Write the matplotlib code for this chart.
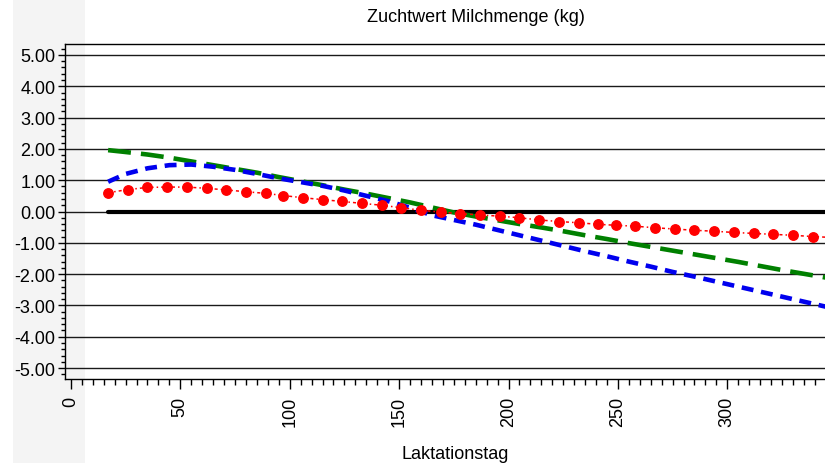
import numpy as np
import matplotlib
matplotlib.use("Agg")
import matplotlib.pyplot as plt
from matplotlib.ticker import MultipleLocator, FormatStrFormatter
from matplotlib.patches import Rectangle

# =====================================================
# DATA
# =====================================================
DAYS_CURVE = [17, 25, 35, 45, 55, 65, 75, 85, 95, 105, 115, 125, 135, 145, 155,
              165, 175, 185, 195, 205, 215, 225, 235, 245, 255, 265, 275, 285,
              295, 305, 315, 325, 335, 345, 355]

GREEN = [1.96, 1.90, 1.82, 1.72, 1.60, 1.48, 1.36, 1.24, 1.10, 0.97, 0.84, 0.70,
         0.57, 0.43, 0.29, 0.13, -0.03, -0.16, -0.28, -0.40, -0.51, -0.63, -0.76,
         -0.88, -1.01, -1.13, -1.25, -1.37, -1.49, -1.61, -1.74, -1.87, -1.99,
         -2.11, -2.23]

BLUE = [0.95, 1.20, 1.38, 1.48, 1.50, 1.43, 1.33, 1.20, 1.06, 0.94, 0.82, 0.67,
        0.50, 0.33, 0.12, -0.12, -0.27, -0.42, -0.59, -0.76, -0.93, -1.10, -1.27,
        -1.43, -1.60, -1.76, -1.93, -2.08, -2.24, -2.40, -2.56, -2.72, -2.88,
        -3.04, -3.20]

DAYS_RED = [17, 26, 35, 44, 53, 62, 71, 80, 89, 97, 106, 115, 124, 133, 142, 151,
            160, 169, 178, 187, 196, 205, 214, 223, 232, 241, 249, 258, 267, 276,
            285, 294, 303, 312, 321, 330, 339, 348]

RED = [0.60, 0.70, 0.77, 0.78, 0.78, 0.74, 0.69, 0.63, 0.58, 0.51, 0.44, 0.38,
       0.32, 0.26, 0.20, 0.12, 0.04, -0.02, -0.07, -0.11, -0.15, -0.20, -0.27,
       -0.32, -0.36, -0.41, -0.44, -0.47, -0.52, -0.56, -0.60, -0.63, -0.67,
       -0.70, -0.73, -0.76, -0.80, -0.83]

DAYS_ZERO = [17, 355]
ZERO = [0.0, 0.0]

# =====================================================
# FIGURE
# =====================================================
plt.rcParams["font.family"] = ["Liberation Sans", "DejaVu Sans"]
plt.rcParams["axes.unicode_minus"] = False

W, H = 825, 464
fig = plt.figure(figsize=(W / 100, H / 100), dpi=100)
fig.patch.set_facecolor("white")

# light grey strip at the left (screenshot background)
fig.patches.append(Rectangle((13 / W, 0), (85 - 13) / W, 1, transform=fig.transFigure,
                             facecolor="#f4f4f4", edgecolor="none", zorder=-5))

ax_left, ax_right = 65, 900
ax_top, ax_bottom = 45, 380
ax = fig.add_axes([ax_left / W, 1 - ax_bottom / H,
                   (ax_right - ax_left) / W, (ax_bottom - ax_top) / H])
ax.set_facecolor("none")

ax.plot(DAYS_ZERO, ZERO, color="black", lw=3.0, solid_capstyle="round", zorder=3)
ax.plot(DAYS_CURVE, GREEN, color="#008000", lw=3.3, dashes=(5, 2.2),
        dash_capstyle="butt", zorder=4)
ax.plot(DAYS_CURVE, BLUE, color="#0000ee", lw=3.3, dashes=(2.6, 1.7),
        dash_capstyle="butt", zorder=5)
ax.plot(DAYS_RED, RED, color="#ff0000", lw=1.1, ls=(0, (2, 2, 1, 2)),
        marker="o", ms=6.8, zorder=6)

ax.set_xlim(-2.7, -2.7 + (ax_right - ax_left) / 2.188)
ax.set_ylim(-5.35, 5.35)

ax.yaxis.set_major_locator(MultipleLocator(1))
ax.yaxis.set_minor_locator(MultipleLocator(0.2))
ax.yaxis.set_major_formatter(FormatStrFormatter("%.2f"))
ax.xaxis.set_major_locator(MultipleLocator(50))
ax.xaxis.set_minor_locator(MultipleLocator(5))

ax.grid(True, axis="y", which="major", color="#1a1a1a", lw=1.0, zorder=1)
ax.set_axisbelow(True)

for s in ax.spines.values():
    s.set_color("black")
    s.set_linewidth(1.0)

ax.tick_params(axis="y", which="major", length=5, width=1, labelsize=13, pad=2)
ax.tick_params(axis="y", which="minor", length=3, width=1)
ax.tick_params(axis="x", which="major", length=7, width=1, labelsize=13,
               labelrotation=90, pad=5)
ax.tick_params(axis="x", which="minor", length=4, width=1)

fig.text(476 / W, 1 - 18 / H, "Zuchtwert Milchmenge (kg)", ha="center",
         va="center", fontsize=13)
fig.text(455 / W, 1 - 455 / H, "Laktationstag", ha="center", va="center",
         fontsize=13)

fig.savefig("out.png", dpi=100)
